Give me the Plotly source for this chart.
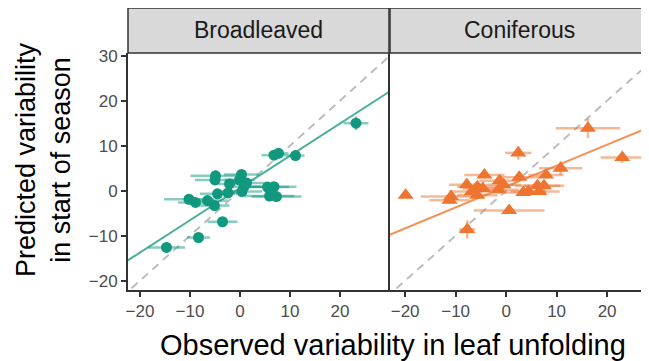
import plotly.graph_objects as go

# ---- data ----
broad_x = [23.2, 11.1, 6.8, 7.7, -4.9, -5.0, -2.1, 0.3, -0.1, 1.3, 0.8, 0.4, 5.5, 6.8, 5.9, 7.3,
           -4.5, -2.4, -10.2, -8.9, -6.5, -5.1, -3.5, -8.3, -14.7]
broad_y = [15.0, 7.8, 7.9, 8.3, 3.3, 2.4, 1.5, 3.6, 2.4, 1.7, 0.9, -0.2, 0.8, 0.9, -1.2, -1.3,
           -0.7, -0.5, -1.9, -2.6, -2.2, -3.3, -6.9, -10.4, -12.6]
broad_xerr = [2.5, 1.8, 2.5, 2.0, 5.0, 4.0, 3.0, 3.5, 3.0, 4.0, 3.5, 4.0, 4.3, 4.5, 5.0, 5.0,
              3.5, 3.0, 5.0, 3.5, 4.0, 3.0, 3.0, 2.3, 3.7]
broad_yerr = [1.5, 1.2, 0.8, 0.8, 1.2, 1.0, 0.8, 1.0, 0.8, 0.8, 0.8, 0.8, 0.8, 0.8, 0.8, 0.8,
              0.8, 0.8, 0.8, 0.8, 0.8, 0.8, 0.8, 1.0, 1.2]

conif_x = [-19.9, 16.2, 23.0, 2.4, 10.8, 7.9, 2.6, -4.3, -1.3, -7.8, -5.7, -4.6, -6.8, -10.9,
           -11.2, -5.7, -1.5, -0.5, 3.4, 4.4, 6.2, 7.5, 6.6, 0.6, -7.7]
conif_y = [-1.0, 13.9, 7.4, 8.4, 5.0, 3.5, 3.0, 3.5, 2.2, 1.3, 0.9, 0.5, -0.2, -1.3,
           -2.1, -1.0, 0.2, 1.3, -0.4, -0.2, 1.1, 1.1, -0.2, -4.4, -8.6]
conif_xerr = [0.0, 6.4, 4.3, 2.6, 4.3, 3.5, 4.0, 4.0, 4.0, 3.5, 4.0, 4.0, 4.5, 6.0,
              4.0, 4.0, 4.0, 3.5, 4.0, 3.5, 4.5, 4.0, 4.0, 7.0, 1.6]
conif_yerr = [0.0, 2.2, 1.2, 1.5, 1.5, 0.8, 0.8, 0.8, 0.8, 0.8, 0.8, 0.8, 0.8, 0.8,
              0.8, 0.8, 0.8, 0.8, 0.8, 0.8, 0.8, 0.8, 0.8, 0.8, 2.0]

# fitted regression lines (slope, intercept)
broad_fit = (0.717, 0.6)
conif_fit = (0.465, 0.93)

panels = ["Broadleaved", "Coniferous"]
x_ticks = [-20, -10, 0, 10, 20]
y_ticks = [-20, -10, 0, 10, 20, 30]

TEAL = "#11987F"
TEAL_ERR = "rgba(17,152,127,0.5)"
TEAL_LINE = "#4DB09C"
ORANGE = "#EE7430"
ORANGE_ERR = "rgba(238,116,48,0.5)"
ORANGE_LINE = "#F4925A"
FONT = "Liberation Sans, Arial, Helvetica, sans-serif"

fig = go.Figure()

line_x = [-30, 40]

for i, (xs, ys, xe, ye, fit, col, ecol, lcol, sym, msize) in enumerate([
    (broad_x, broad_y, broad_xerr, broad_yerr, broad_fit, TEAL, TEAL_ERR, TEAL_LINE, "circle", 11),
    (conif_x, conif_y, conif_xerr, conif_yerr, conif_fit, ORANGE, ORANGE_ERR, ORANGE_LINE, "triangle-up", 14),
]):
    xa = "x" if i == 0 else "x2"
    ya = "y" if i == 0 else "y2"
    fig.add_trace(go.Scatter(x=line_x, y=line_x, mode="lines", xaxis=xa, yaxis=ya,
                             line=dict(color="#BDBDBD", width=2, dash="8px,6px"),
                             showlegend=False, hoverinfo="skip"))
    fig.add_trace(go.Scatter(x=line_x, y=[fit[0] * v + fit[1] for v in line_x], mode="lines",
                             xaxis=xa, yaxis=ya, line=dict(color=lcol, width=2),
                             showlegend=False, hoverinfo="skip"))
    fig.add_trace(go.Scatter(x=xs, y=ys, mode="markers", xaxis=xa, yaxis=ya,
                             marker=dict(color=col, size=msize, symbol=sym, line=dict(width=0)),
                             error_x=dict(type="data", array=xe, color=ecol, thickness=2.5, width=0),
                             error_y=dict(type="data", array=ye, color=ecol, thickness=2.5, width=0),
                             showlegend=False))

OFF = 8  # page body margin
W, H = 649 - OFF, 361 - OFF
ml, mt = 128 - OFF, 53 - OFF
plot_bottom = 290 - OFF
mr = 0
mb = H - plot_bottom
pw = W - ml - mr
ph = plot_bottom - mt
d1 = [0, 261 / pw]
d2 = [262 / pw, 1]

axis_common = dict(showgrid=False, zeroline=False, showline=True, linecolor="#333333", linewidth=2,
                   ticks="outside", ticklen=5, tickwidth=2, tickcolor="#333333",
                   tickfont=dict(size=17, color="#4D4D4D", family=FONT))

fig.update_layout(
    width=W, height=H,
    margin=dict(l=ml, r=mr, t=mt, b=mb),
    paper_bgcolor="white", plot_bgcolor="white",
    font=dict(family=FONT),
    xaxis=dict(domain=d1, range=[-22.4, 29.8], tickvals=x_ticks, anchor="y", **axis_common),
    xaxis2=dict(domain=d2, range=[-23.0, 28.3], tickvals=x_ticks, anchor="y2", **axis_common),
    yaxis=dict(domain=[0, 1], range=[-22.07, 30.6], tickvals=y_ticks, anchor="x", **axis_common),
    yaxis2=dict(domain=[0, 1], range=[-22.07, 30.6], tickvals=y_ticks, anchor="x2",
                showgrid=False, zeroline=False, showline=True, linecolor="#333333", linewidth=2,
                ticks="", showticklabels=False),
)


def px_x(xw):
    return (xw - OFF - ml) / pw


def px_y(yw):
    return (plot_bottom - (yw - OFF)) / ph


strip_top = px_y(8)
shapes = []
annotations = []
for dom in [d1, [d2[0], 1.02]]:
    shapes.append(dict(type="rect", xref="paper", yref="paper", x0=dom[0], x1=dom[1], y0=1,
                       y1=strip_top, fillcolor="#D9D9D9", line=dict(color="#333333", width=1.5),
                       layer="above"))
for dom, name in zip([d1, [d2[0], 1.0]], panels):
    annotations.append(dict(text=name, xref="paper", yref="paper", x=(dom[0] + dom[1]) / 2,
                            y=(1 + strip_top) / 2, showarrow=False, xanchor="center", yanchor="middle",
                            font=dict(size=23, color="#1A1A1A", family=FONT)))

annotations.append(dict(text="Observed variability in leaf unfolding", xref="paper", yref="paper",
                        x=px_x(393), y=px_y(345), showarrow=False,
                        xanchor="center", yanchor="middle",
                        font=dict(size=29, color="black", family=FONT)))
annotations.append(dict(text="Predicted variability<br>in start of season", xref="paper", yref="paper",
                        x=px_x(43), y=px_y(160), showarrow=False, textangle=-90,
                        xanchor="center", yanchor="middle",
                        font=dict(size=27, color="black", family=FONT)))

fig.update_layout(shapes=shapes, annotations=annotations)

fig.write_html("out.html")
